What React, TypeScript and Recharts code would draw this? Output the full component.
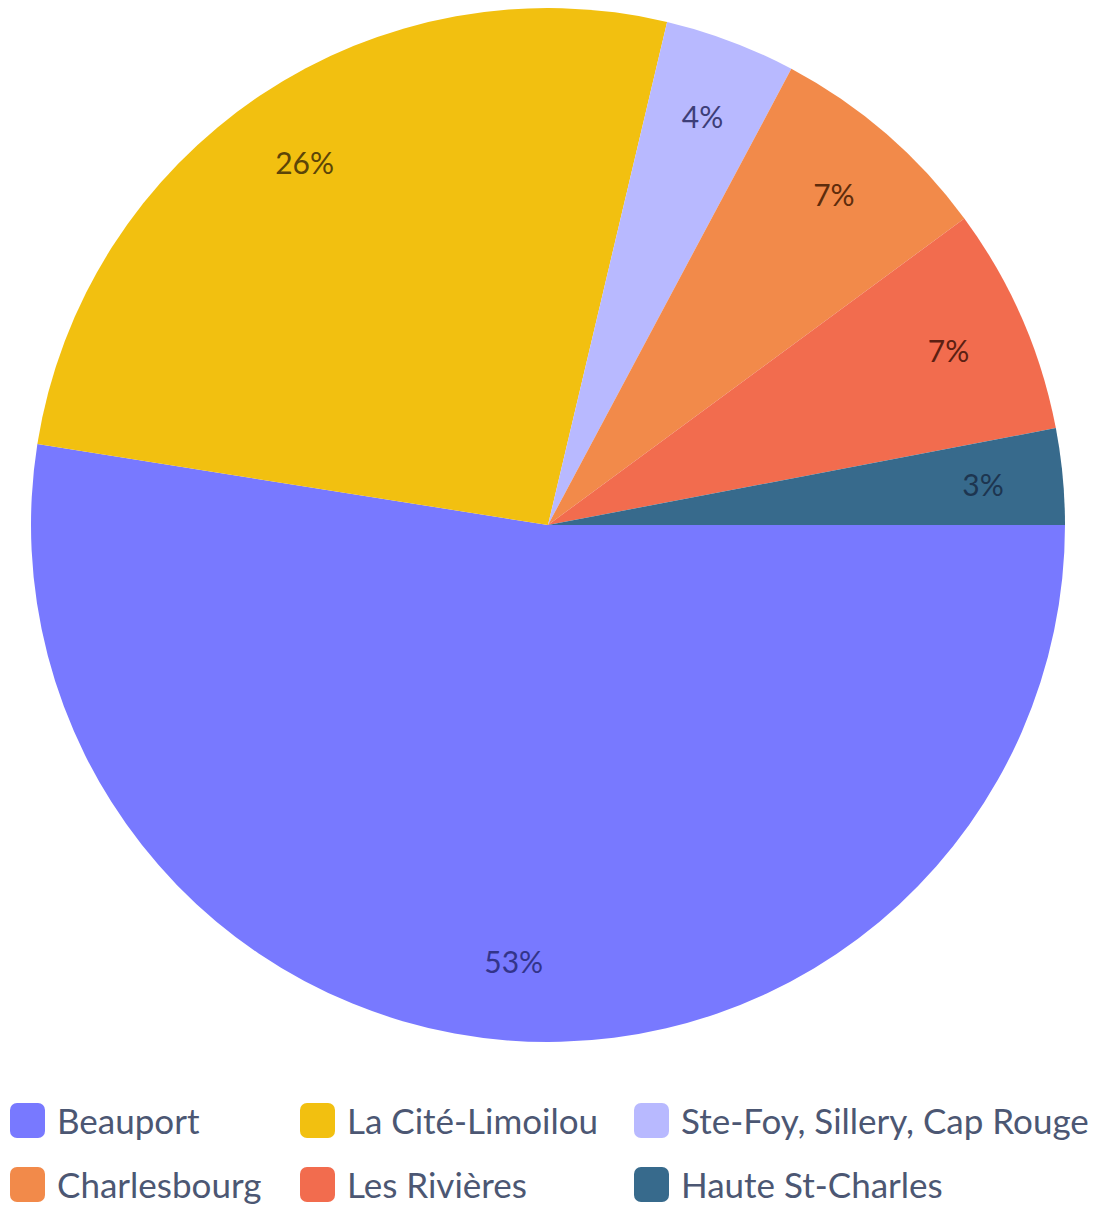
import React from 'react';
import { PieChart, Pie, Cell, Legend } from 'recharts';

const districts = [
  'Beauport',
  'La Cité-Limoilou',
  'Ste-Foy, Sillery, Cap Rouge',
  'Charlesbourg',
  'Les Rivières',
  'Haute St-Charles',
];
const shares = [52.5, 26.2, 4.1, 7.1, 7.1, 3.0];
const colors = ['#7879FF', '#F2C010', '#B8B9FF', '#F28A4A', '#F26C4E', '#376A8C'];
const labelColors = ['#33348A', '#5C4508', '#3D3E78', '#5E2C0C', '#5C2012', '#1D3550'];

const data = districts.map((name, i) => ({ name, value: shares[i] }));

const RAD = Math.PI / 180;

const renderLabel = (props: any) => {
  const { cx, cy, midAngle, percent, index } = props;
  const r = 437;
  const x = cx + r * Math.cos(-midAngle * RAD);
  const y = cy + r * Math.sin(-midAngle * RAD);
  return (
    <text
      x={x}
      y={y}
      fill={labelColors[index]}
      fontSize={30}
      fontFamily="Lato"
      textAnchor="middle"
      dominantBaseline="central"
    >
      {`${Math.round(percent * 100)}%`}
    </text>
  );
};

const legendCols = [0, 290, 624];

const LegendContent = () => (
  <div style={{ position: 'relative', width: 1090, height: 130, fontFamily: 'Lato' }}>
    {districts.map((name, i) => (
      <div
        key={name}
        style={{
          position: 'absolute',
          left: legendCols[i % 3],
          top: Math.floor(i / 3) * 64,
          display: 'flex',
          alignItems: 'center',
          whiteSpace: 'nowrap',
        }}
      >
        <span
          style={{
            display: 'inline-block',
            width: 35,
            height: 35,
            borderRadius: 7,
            background: colors[i],
            marginRight: 12,
          }}
        />
        <span style={{ fontSize: 35, color: '#4C5773' }}>{name}</span>
      </div>
    ))}
  </div>
);

export default function App() {
  return (
    <PieChart width={1092} height={1197} style={{ overflow: 'visible' }}>
      <Pie
        data={data}
        dataKey="value"
        nameKey="name"
        cx={535}
        cy={512}
        outerRadius={517}
        startAngle={0}
        endAngle={-360}
        stroke="none"
        label={renderLabel}
        labelLine={false}
        isAnimationActive={false}
      >
        {data.map((d, i) => (
          <Cell key={d.name} fill={colors[i]} />
        ))}
      </Pie>
      <Legend
        content={<LegendContent />}
        wrapperStyle={{ position: 'absolute', left: 2, top: 1091, width: 1090, overflow: 'visible' }}
      />
    </PieChart>
  );
}
